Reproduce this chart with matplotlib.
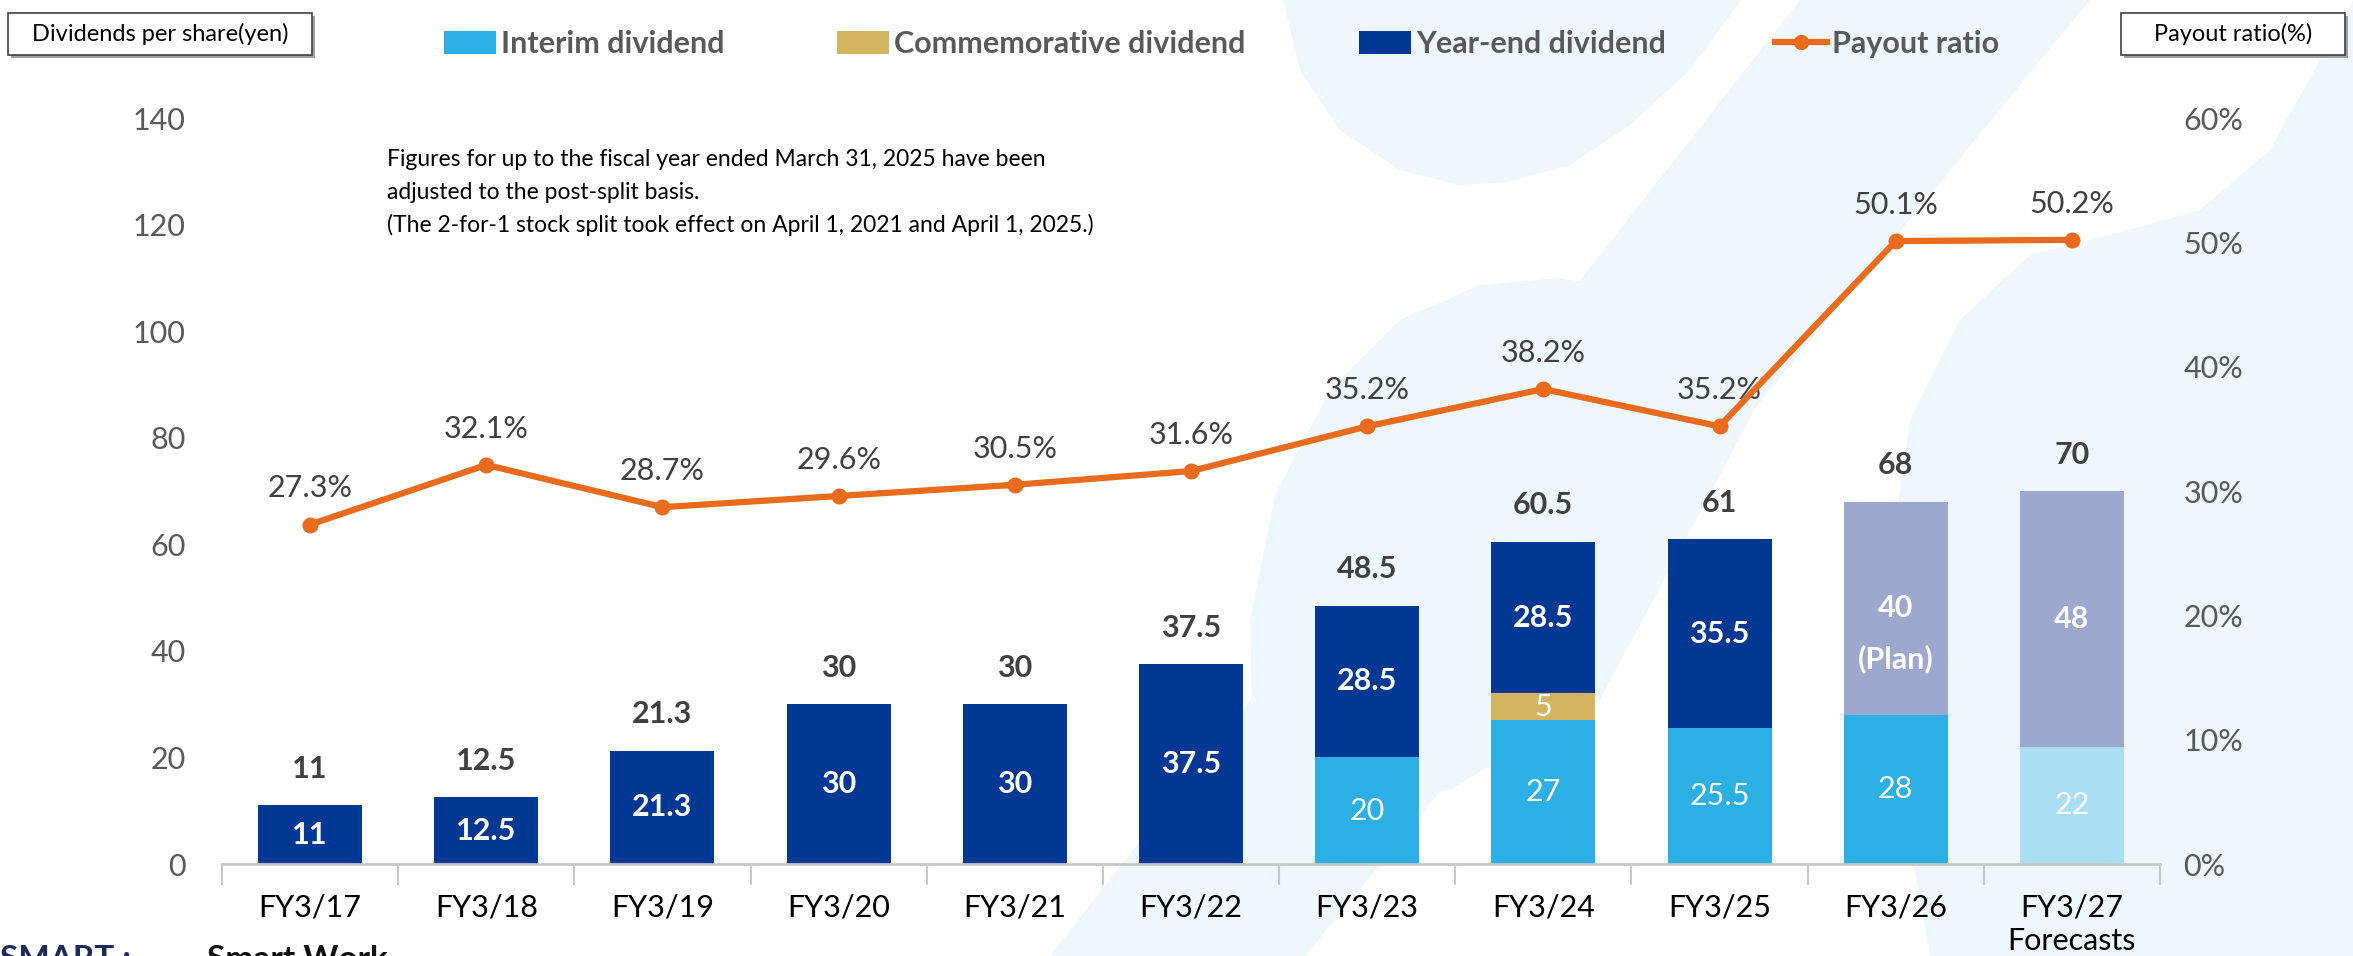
import matplotlib
matplotlib.use("Agg")
import matplotlib.pyplot as plt
import numpy as np
from matplotlib.patches import Polygon, Rectangle
from matplotlib.lines import Line2D

plt.rcParams['font.family'] = ['Lato', 'DejaVu Sans']

# ---------------- data ----------------
categories = ["FY3/17", "FY3/18", "FY3/19", "FY3/20", "FY3/21", "FY3/22",
              "FY3/23", "FY3/24", "FY3/25", "FY3/26", "FY3/27\nForecasts"]
interim = [0, 0, 0, 0, 0, 0, 20, 27, 25.5, 28, 22]
commemorative = [0, 0, 0, 0, 0, 0, 0, 5, 0, 0, 0]
year_end = [11, 12.5, 21.3, 30, 30, 37.5, 28.5, 28.5, 35.5, 40, 48]
totals = [11, 12.5, 21.3, 30, 30, 37.5, 48.5, 60.5, 61, 68, 70]
payout = [27.3, 32.1, 28.7, 29.6, 30.5, 31.6, 35.2, 38.2, 35.2, 50.1, 50.2]
left_ticks = [0, 20, 40, 60, 80, 100, 120, 140]
right_ticks = [0, 10, 20, 30, 40, 50, 60]

C_INT = "#2BAFE5"
C_INT_F = "#A9DEF5"
C_COM = "#D4B55F"
C_YE = "#003893"
C_YE_P = "#9EA8CF"
C_LINE = "#EA6B1C"
C_TXT = "#404040"
C_TICK = "#595959"
C_BG = "#EFF7FC"

W, H = 2353, 956
fig = plt.figure(figsize=(W / 100, H / 100), dpi=100)

# background decorative layer in pixel coords
bg = fig.add_axes([0, 0, 1, 1], zorder=0)
bg.set_xlim(0, W)
bg.set_ylim(H, 0)
bg.axis("off")

shapes = [
    [(1283, 0), (1300, 70), (1340, 130), (1400, 170), (1460, 185), (1508, 182),
     (1570, 165), (1630, 125), (1690, 70), (1741, 0)],
    [(1800, 0), (2090, 0), (1305, H), (1050, H)],
    [(1253, 790), (1250, 620), (1275, 495), (1330, 390), (1400, 320), (1480, 285),
     (1560, 278), (1630, 290), (1690, 270), (1740, 220), (1760, 400), (1600, 700),
     (1450, 790), (1350, 800)],
    [(1930, H), (1895, 760), (1890, 560), (1910, 420), (1960, 320), (2030, 255),
     (2110, 235), (2200, 210), (2270, 150), (2320, 60), (2353, 0), (W, H)],
]
for s in shapes:
    bg.add_patch(Polygon(s, closed=True, facecolor=C_BG, edgecolor="none"))

# main axes
L, R = 222 / W, 2160 / W
B, T = 1 - 864 / H, 1 - 118 / H
ax = fig.add_axes([L, B, R - L, T - B], zorder=1)
ax.patch.set_visible(False)

x = np.arange(len(categories))
bw = 0.59
int_colors = [C_INT] * 10 + [C_INT_F]
ye_colors = [C_YE] * 9 + [C_YE_P, C_YE_P]

ax.bar(x, interim, bw, color=int_colors, zorder=2)
ax.bar(x, commemorative, bw, bottom=interim, color=C_COM, zorder=2)
bottoms_ye = [i + c for i, c in zip(interim, commemorative)]
ax.bar(x, year_end, bw, bottom=bottoms_ye, color=ye_colors, zorder=2)

ax.set_xlim(-0.5, len(categories) - 0.5)
ax.set_ylim(0, 140)
ax.set_yticks(left_ticks)
ax.set_yticklabels([str(t) for t in left_ticks], fontsize=22, color=C_TICK)
ax.tick_params(axis="y", length=0, pad=26)
ax.set_xticks(x)
ax.set_xticklabels(categories, fontsize=22, color="black", linespacing=1.25,
                   va="top")
ax.tick_params(axis="x", which="major", length=0, pad=21)
ax.set_xticks(np.arange(-0.5, len(categories), 1.0), minor=True)
ax.tick_params(axis="x", which="minor", length=15, width=1.5, color="#C8C8C8")
for sp in ["top", "left", "right"]:
    ax.spines[sp].set_visible(False)
ax.spines["bottom"].set_color("#C8C8C8")
ax.spines["bottom"].set_linewidth(2)

# labels on bars
for i in range(len(categories)):
    ax.annotate(f"{totals[i]:g}", (x[i], totals[i]), xytext=(0, 16),
                textcoords="offset points", ha="center", va="bottom",
                fontsize=22, fontweight="bold", color=C_TXT)
    if interim[i] > 0:
        ax.text(x[i], interim[i] / 2, f"{interim[i]:g}", ha="center", va="center",
                fontsize=22, color="white", zorder=3)
    if commemorative[i] > 0:
        ax.text(x[i], interim[i] + commemorative[i] / 2, f"{commemorative[i]:g}",
                ha="center", va="center", fontsize=22, color="white", zorder=3)
    yc = bottoms_ye[i] + year_end[i] / 2
    ax.text(x[i], yc, f"{year_end[i]:g}", ha="center", va="center",
            fontsize=22, fontweight="bold", color="white", zorder=3)
    if i == 9:
        ax.annotate("(Plan)", (x[i], yc), xytext=(0, -36), textcoords="offset points",
                    ha="center", va="center", fontsize=22, fontweight="bold",
                    color="white", zorder=3)

# payout line
ax2 = ax.twinx()
ax2.set_zorder(2)
ax2.patch.set_visible(False)
ax2.plot(x, payout, color=C_LINE, lw=4.5, marker="o", ms=10.5, zorder=4)
ax2.set_ylim(0, 60)
ax2.set_yticks(right_ticks)
ax2.set_yticklabels([f"{t}%" for t in right_ticks], fontsize=22, color=C_TICK)
ax2.tick_params(axis="y", length=0, pad=17)
for sp in ["top", "left", "right", "bottom"]:
    ax2.spines[sp].set_visible(False)
for i, p in enumerate(payout):
    ax2.annotate(f"{p}%", (x[i], p), xytext=(0, 16), textcoords="offset points",
                 ha="center", va="bottom", fontsize=22, color=C_TXT)

# annotation text
note = ["Figures for up to the fiscal year ended March 31, 2025 have been",
        "adjusted to the post-split basis.",
        "(The 2-for-1 stock split took effect on April 1, 2021 and April 1, 2025.)"]
for k, line in enumerate(note):
    bg.text(387, 159 + 33 * k, line, ha="left", va="center", fontsize=16.5,
            color="black", zorder=5)

# legend (manual)
leg_items = [("patch", C_INT, 444, "Interim dividend"),
             ("patch", C_COM, 837, "Commemorative dividend"),
             ("patch", C_YE, 1359, "Year-end dividend"),
             ("line", C_LINE, 1775, "Payout ratio")]
for kind, col, x0, lab in leg_items:
    if kind == "patch":
        bg.add_patch(Rectangle((x0, 31), 52, 23, facecolor=col, edgecolor="none"))
    else:
        bg.add_line(Line2D([x0, x0 + 52], [42, 42], color=col, lw=4.5))
        bg.plot([x0 + 26], [42], marker="o", ms=10, color=col)
    bg.text(x0 + 57, 44, lab, ha="left", va="center", fontsize=22,
            fontweight="bold", color="#595959")

# axis title boxes
for (x0, x1, lab) in [(8, 312, "Dividends per share(yen)"),
                      (2121, 2345, "Payout ratio(%)")]:
    bg.add_patch(Rectangle((x0 + 3, 16), x1 - x0, 42, facecolor="#A0A0A0",
                           edgecolor="none"))
    bg.add_patch(Rectangle((x0, 13), x1 - x0, 42, facecolor="white",
                           edgecolor="#404040", lw=1.2))
    bg.text((x0 + x1) / 2, 34, lab, ha="center", va="center", fontsize=17,
            color="black")

# clipped footer (cut by the bottom edge, as in the source slide)
bg.text(0, 945, "SMART :", ha="left", va="top", fontsize=24, fontweight="bold",
        color="#1F2A5C")
bg.text(207, 945, "Smart Work", ha="left", va="top", fontsize=24,
        fontweight="bold", color="#111111")

fig.savefig("out.png", dpi=100)
